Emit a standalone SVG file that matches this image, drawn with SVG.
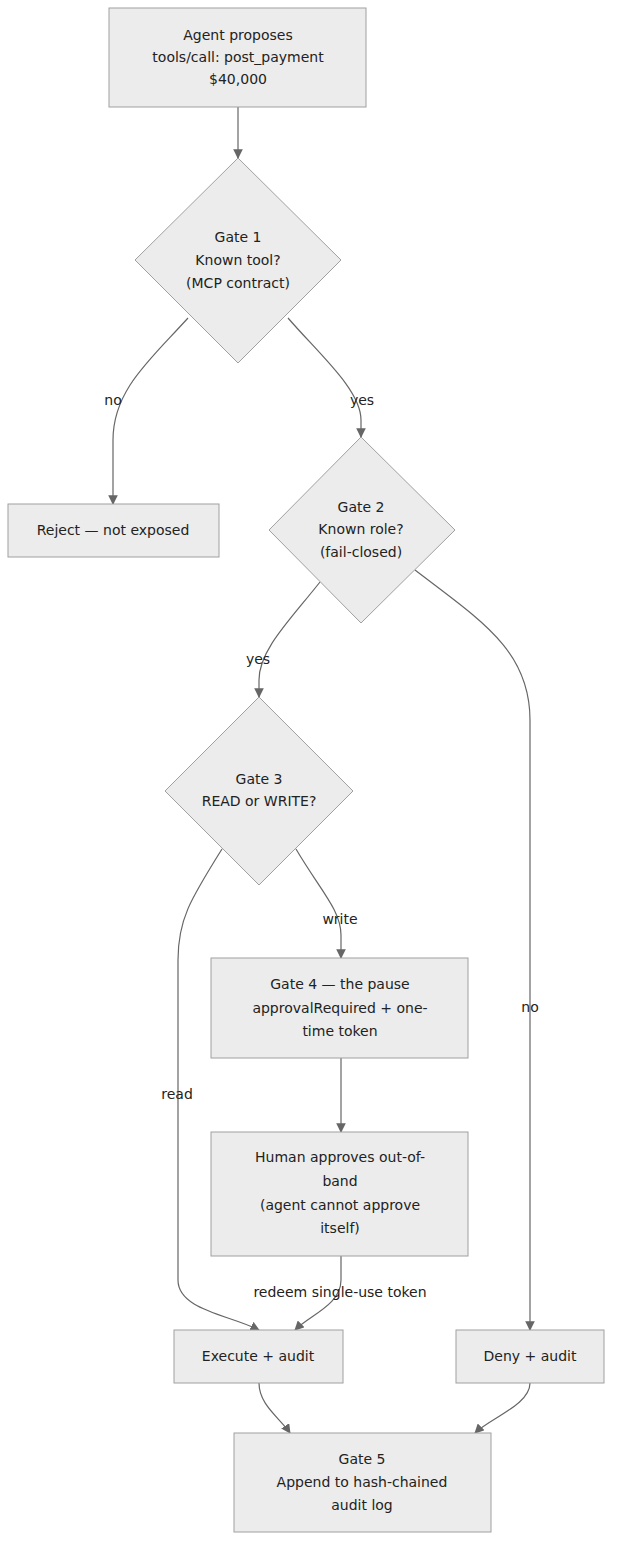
<svg xmlns="http://www.w3.org/2000/svg" width="620" height="1560" viewBox="0 0 620 1560">
<style>
.n{fill:#ececec;stroke:#a0a0a0;stroke-width:1}
.t{font-family:"DejaVu Sans","Liberation Sans",sans-serif;font-size:14px;fill:#222;text-anchor:middle;dominant-baseline:middle}
.e{fill:none;stroke:#666;stroke-width:1.2}
</style>
<defs><marker id="ar" viewBox="0 0 10 10" refX="9" refY="5" markerWidth="8" markerHeight="8" orient="auto"><path d="M0,0L10,5L0,10z" fill="#666"/></marker></defs>
<rect width="620" height="1560" fill="#fff"/>
<g id="edges">
<path class="e" marker-end="url(#ar)" d="M238,107V158"/>
<path class="e" marker-end="url(#ar)" d="M188,318C150,360 113,390 113,440V504"/>
<path class="e" marker-end="url(#ar)" d="M288,318C320,355 361,390 361,420V437"/>
<path class="e" marker-end="url(#ar)" d="M320,582C290,620 259,650 259,680V697"/>
<path class="e" marker-end="url(#ar)" d="M415,570C480,620 530,650 530,720V1330"/>
<path class="e" marker-end="url(#ar)" d="M296,849C320,890 341,910 341,935V958"/>
<path class="e" marker-end="url(#ar)" d="M222,849C190,900 178,920 178,960V1280C178,1310 230,1315 259,1330"/>
<path class="e" marker-end="url(#ar)" d="M341,1058V1132"/>
<path class="e" marker-end="url(#ar)" d="M341,1256V1280C341,1305 310,1315 295,1330"/>
<path class="e" marker-end="url(#ar)" d="M259,1383C259,1405 280,1418 290,1433"/>
<path class="e" marker-end="url(#ar)" d="M530,1383C530,1405 490,1418 475,1433"/>
<text class="t" x="113" y="401">no</text>
<text class="t" x="362" y="401">yes</text>
<text class="t" x="258" y="660">yes</text>
<text class="t" x="530" y="1008">no</text>
<text class="t" x="340" y="920">write</text>
<text class="t" x="177" y="1095">read</text>
<text class="t" x="340" y="1293">redeem single-use token</text>
</g>
<g id="A"><rect class="n" x="109" y="8" width="257" height="99"/><text class="t" x="238" y="36">Agent proposes</text><text class="t" x="238" y="58">tools/call: post_payment</text><text class="t" x="238" y="80">$40,000</text></g>
<g id="G1"><path class="n" d="M238,158L341,260L238,363L135,260z"/><text class="t" x="238" y="238">Gate 1</text><text class="t" x="238" y="261">Known tool?</text><text class="t" x="238" y="284">(MCP contract)</text></g>
<g id="R"><rect class="n" x="8" y="504" width="211" height="53"/><text class="t" x="113" y="531">Reject — not exposed</text></g>
<g id="G2"><path class="n" d="M361,437L455,530L361,623L269,530z"/><text class="t" x="361" y="508">Gate 2</text><text class="t" x="361" y="530">Known role?</text><text class="t" x="361" y="553">(fail-closed)</text></g>
<g id="G3"><path class="n" d="M259,697L353,791L259,885L165,791z"/><text class="t" x="259" y="780">Gate 3</text><text class="t" x="259" y="802">READ or WRITE?</text></g>
<g id="G4"><rect class="n" x="211" y="958" width="257" height="100"/><text class="t" x="340" y="985">Gate 4 — the pause</text><text class="t" x="340" y="1009">approvalRequired + one-</text><text class="t" x="340" y="1032">time token</text></g>
<g id="H"><rect class="n" x="211" y="1132" width="257" height="124"/><text class="t" x="340" y="1158">Human approves out-of-</text><text class="t" x="340" y="1182">band</text><text class="t" x="340" y="1206">(agent cannot approve</text><text class="t" x="340" y="1229">itself)</text></g>
<g id="X"><rect class="n" x="174" y="1330" width="169" height="53"/><text class="t" x="258" y="1357">Execute + audit</text></g>
<g id="D"><rect class="n" x="456" y="1330" width="148" height="53"/><text class="t" x="530" y="1357">Deny + audit</text></g>
<g id="G5"><rect class="n" x="234" y="1433" width="257" height="99"/><text class="t" x="362" y="1460">Gate 5</text><text class="t" x="362" y="1483">Append to hash-chained</text><text class="t" x="362" y="1506">audit log</text></g>
</svg>
